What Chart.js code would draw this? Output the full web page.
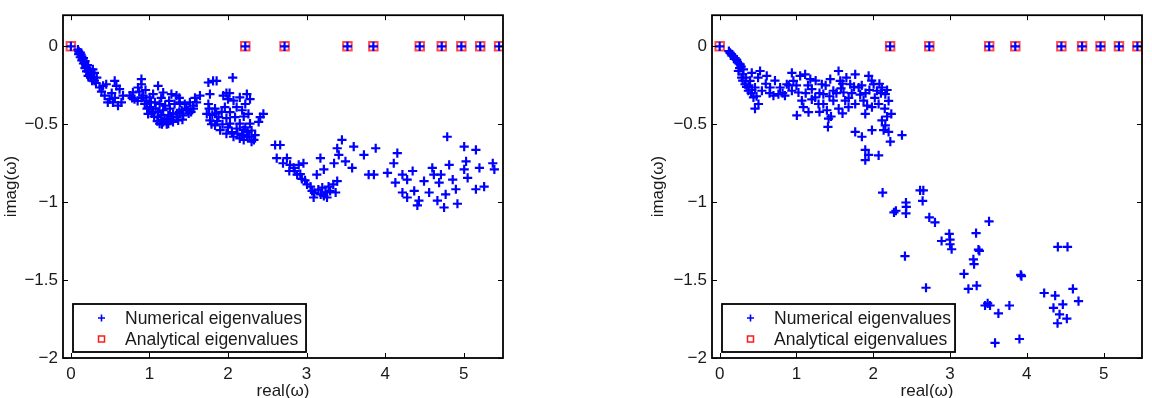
<!DOCTYPE html>
<html>
<head>
<meta charset="utf-8">
<script src="https://cdn.jsdelivr.net/npm/chart.js@4"></script>
<style>
  html, body { margin: 0; padding: 0; background: #fff; overflow: hidden; }
  #wrap { position: relative; width: 1152px; height: 398px; }
  #c1 { position: absolute; left: 0; top: 0; }
  #c2 { position: absolute; left: 647px; top: 0; }
</style>
</head>
<body>
<div id="wrap">
  <canvas id="c1" width="576" height="398"></canvas>
  <canvas id="c2" width="505" height="398"></canvas>
</div>
<script>
// ---------- data ----------
const xLabel = 'real(ω)';
const yLabel = 'imag(ω)';
const legendLabels = ['Numerical eigenvalues', 'Analytical eigenvalues'];

// analytical eigenvalues (all on imag = 0)
const leftAnalyticalReal  = [0, 2.22, 2.72, 3.52, 3.85, 4.44, 4.72, 4.97, 5.21, 5.45];
const rightAnalyticalReal = [0, 2.22, 2.73, 3.51, 3.85, 4.45, 4.72, 4.96, 5.20, 5.44];

// numerical eigenvalues, [real, imag]
const leftNumerical = [
  [0,0],[2.22,0],[2.72,0],[3.52,0],[3.85,0],[4.44,0],[4.72,0],[4.97,0],[5.21,0],[5.45,0],
  [0.09,-0.02],[0.1,-0.032],[0.11,-0.045],[0.12,-0.04],[0.13,-0.053],[0.14,-0.065],[0.15,-0.085],[0.16,-0.075],
  [0.175,-0.106],[0.18,-0.095],[0.19,-0.125],[0.2,-0.137],[0.21,-0.12],[0.217,-0.158],[0.23,-0.145],[0.238,-0.18],
  [0.26,-0.17],[0.28,-0.2],[0.28,-0.148],[0.3,-0.22],[0.32,-0.235],
  [0.1,-0.05],[0.12,-0.07],[0.14,-0.09],[0.16,-0.11],[0.18,-0.14],[0.2,-0.16],[0.22,-0.19],[0.25,-0.2],
  [0.27,-0.22],[0.3,-0.17],[0.33,-0.2],
  [0.366,-0.264],[0.41,-0.253],[0.45,-0.243],[0.39,-0.29],[0.558,-0.222],[0.58,-0.253],[0.62,-0.275],[0.43,-0.316],
  [0.494,-0.338],[0.536,-0.36],[0.6,-0.38],[0.643,-0.36],[0.47,-0.36],[0.664,-0.316],[0.52,-0.3],[0.56,-0.33],
  [0.75,-0.316],[0.79,-0.295],[0.855,-0.264],[0.898,-0.21],[0.898,-0.243],[0.81,-0.338],[0.92,-0.316],[0.96,-0.348],
  [1.004,-0.39],[1.047,-0.42],[1.11,-0.454],[1.175,-0.485],[1.24,-0.496],[1.3,-0.485],[1.366,-0.475],[1.43,-0.443],
  [1.49,-0.41],[1.557,-0.38],[1.6,-0.36],[1.643,-0.316],[1.11,-0.253],[1.175,-0.296],[1.345,-0.316],[1.28,-0.306],
  [1.387,-0.36],[1.45,-0.37],[1.515,-0.36],[1.004,-0.327],[1.07,-0.36],[1.13,-0.37],[1.175,-0.41],[1.24,-0.443],
  [1.3,-0.433],[1.047,-0.306],[0.94,-0.37],[0.983,-0.433],[1.11,-0.422],[1.26,-0.4],[1.345,-0.454],[1.41,-0.41],
  [1.13,-0.496],[1.22,-0.464],[0.87,-0.29],[0.95,-0.28],[1.02,-0.36],[1.08,-0.4],[1.15,-0.44],[1.2,-0.38],
  [1.32,-0.37],[1.38,-0.42],[1.47,-0.4],[1.53,-0.42],[1.19,-0.47],[1.27,-0.47],[1.06,-0.45],
  [0.78,-0.33],[0.85,-0.35],[0.9,-0.33],[0.97,-0.4],[1.03,-0.43],[1.1,-0.48],[1.16,-0.5],[1.22,-0.5],
  [1.28,-0.45],[1.35,-0.43],[1.42,-0.47],[1.5,-0.43],[1.56,-0.4],[1.25,-0.35],[1.15,-0.33],[1.38,-0.33],[1.58,-0.33],
  [1.75,-0.232],[1.81,-0.222],[1.855,-0.222],[1.77,-0.306],[2.06,-0.2],[1.75,-0.37],[1.73,-0.433],[1.77,-0.475],
  [1.835,-0.507],[1.9,-0.538],[1.98,-0.56],[2.07,-0.58],[2.15,-0.59],[2.24,-0.58],[2.3,-0.612],[2.345,-0.57],
  [1.94,-0.316],[2.0,-0.338],[1.96,-0.39],[2.025,-0.422],[2.09,-0.454],[2.11,-0.39],[2.15,-0.496],[2.196,-0.538],
  [2.24,-0.306],[2.28,-0.338],[2.22,-0.37],[2.26,-0.433],[2.28,-0.496],[1.88,-0.454],[1.835,-0.4],[2.025,-0.496],
  [2.11,-0.527],[2.41,-0.454],[2.45,-0.433],[2.39,-0.485],[2.07,-0.348],[2.15,-0.327],[1.8,-0.44],[1.86,-0.48],
  [1.93,-0.5],[2.0,-0.52],[2.2,-0.45],[2.3,-0.54],[2.25,-0.55],[2.18,-0.41],
  [1.76,-0.4],[1.79,-0.5],[1.85,-0.43],[1.92,-0.42],[1.98,-0.46],[2.05,-0.55],[2.12,-0.56],[2.18,-0.57],
  [2.22,-0.52],[2.27,-0.58],[2.33,-0.6],[2.2,-0.6],[2.02,-0.3],[1.98,-0.3],
  [2.6,-0.633],[2.664,-0.633],[2.62,-0.717],[2.75,-0.717],[2.79,-0.76],[2.835,-0.78],[2.9,-0.76],[2.96,-0.75],
  [2.88,-0.823],[2.94,-0.85],[3.006,-0.886],[3.07,-0.928],[3.09,-0.97],[3.13,-0.823],[3.176,-0.717],[3.22,-0.79],
  [3.2,-0.907],[3.24,-0.938],[3.26,-0.97],[3.3,-0.928],[3.34,-0.886],[3.37,-0.938],[3.39,-0.865],[3.41,-0.696],
  [3.39,-0.654],[3.45,-0.6],[3.35,-0.75],[3.495,-0.738],[3.58,-0.78],[3.6,-0.643],[3.73,-0.696],[3.88,-0.654],
  [3.79,-0.823],[3.857,-0.823],[4.03,-0.812],[4.155,-0.685],[4.11,-0.75],[4.13,-0.875],[4.22,-0.823],[4.28,-0.855],
  [4.35,-0.8],[4.22,-0.938],[4.28,-0.97],[4.37,-0.928],[4.43,-0.99],[4.41,-1.02],[4.495,-0.865],[4.56,-0.938],
  [4.62,-0.823],[4.687,-0.875],[4.71,-0.823],[4.665,-0.99],[4.75,-1.034],[4.77,-0.95],[4.815,-0.76],[4.86,-0.855],
  [4.9,-0.917],[4.92,-1.01],[4.79,-0.58],[5.006,-0.643],[5.155,-0.664],[5.03,-0.738],[5.006,-0.79],[5.05,-0.844],
  [5.2,-0.78],[5.155,-0.917],[5.26,-0.9],[5.37,-0.75],[5.39,-0.79],[4.6,-0.78],
  [2.85,-0.8],[2.92,-0.82],[2.98,-0.86],[3.05,-0.9],[3.15,-0.92],[3.18,-0.95],[3.28,-0.9],[3.1,-0.94],
  [3.22,-0.96],[2.7,-0.75],[2.78,-0.8]
];

const rightNumerical = [
  [0,0],[2.22,0],[2.73,0],[3.51,0],[3.85,0],[4.45,0],[4.72,0],[4.96,0],[5.2,0],[5.44,0],
  [0.12,-0.03],[0.135,-0.042],[0.15,-0.05],[0.16,-0.06],[0.18,-0.064],[0.19,-0.08],[0.2,-0.075],[0.22,-0.085],
  [0.23,-0.1],[0.25,-0.11],[0.266,-0.116],[0.28,-0.13],[0.31,-0.148],[0.244,-0.158],[0.26,-0.14],[0.287,-0.2],
  [0.3,-0.18],[0.33,-0.243],[0.35,-0.26],[0.374,-0.285],[0.41,-0.3],[0.44,-0.327],[0.46,-0.4],[0.505,-0.37],
  [0.396,-0.222],[0.418,-0.17],[0.526,-0.158],[0.613,-0.19],[0.46,-0.264],[0.55,-0.285],[0.657,-0.264],[0.7,-0.316],
  [0.787,-0.264],[0.85,-0.316],[0.94,-0.17],[0.96,-0.222],[0.94,-0.285],[1.026,-0.296],[1.048,-0.19],[1.113,-0.18],
  [1.18,-0.21],[1.2,-0.275],[1.07,-0.348],[1.005,-0.443],[1.157,-0.422],[1.09,-0.39],[1.244,-0.327],[1.287,-0.37],
  [1.396,-0.41],[1.418,-0.464],[1.41,-0.517],[1.35,-0.306],[1.44,-0.21],[1.48,-0.285],[1.548,-0.158],[1.57,-0.222],
  [1.613,-0.296],[1.678,-0.39],[1.7,-0.243],[1.765,-0.18],[1.81,-0.264],[1.874,-0.348],[1.94,-0.19],[2.005,-0.243],
  [2.048,-0.285],[2.113,-0.264],[2.157,-0.306],[1.896,-0.433],[1.983,-0.39],[2.07,-0.37],[2.235,-0.433],[2.113,-0.475],
  [2.157,-0.507],[2.2,-0.549],[2.222,-0.612],[2.135,-0.538],[2.374,-0.57],[1.983,-0.538],[1.765,-0.549],[1.852,-0.58],
  [1.896,-0.664],[1.94,-0.696],[1.896,-0.73],[2.07,-0.7],[1.765,-0.37],[1.635,-0.348],[1.48,-0.348],[1.33,-0.243],
  [0.874,-0.243],[0.765,-0.306],
  [0.6,-0.24],[0.72,-0.22],[0.82,-0.3],[1.0,-0.25],[1.12,-0.3],[1.3,-0.3],[1.38,-0.25],[1.52,-0.3],
  [1.58,-0.27],[1.65,-0.2],[1.72,-0.3],[1.85,-0.25],[1.9,-0.3],[1.95,-0.28],[2.02,-0.33],[2.1,-0.3],
  [1.55,-0.4],[1.45,-0.45],[1.3,-0.42],[2.18,-0.45],[2.15,-0.4],
  [0.3,-0.22],[0.34,-0.2],[0.38,-0.25],[0.42,-0.28],[0.48,-0.32],[0.5,-0.2],[0.65,-0.3],[0.9,-0.25],
  [1.15,-0.25],[1.25,-0.22],[1.43,-0.32],[1.6,-0.24],[1.68,-0.33],[1.75,-0.26],[1.83,-0.31],[1.98,-0.22],
  [2.08,-0.24],[2.18,-0.28],[2.2,-0.35],[1.92,-0.38],[1.6,-0.43],[1.35,-0.37],[1.2,-0.34],
  [2.122,-0.939],[2.61,-0.924],[2.652,-0.924],[2.643,-0.992],[2.426,-1.002],[2.43,-1.03],[2.426,-1.072],[2.295,-1.055],
  [2.27,-1.065],[2.73,-1.097],[2.804,-1.129],[2.99,-1.203],[3.0,-1.24],[2.89,-1.249],[3.0,-1.27],[3.021,-1.302],
  [3.339,-1.199],[3.508,-1.123],[3.382,-1.313],[3.37,-1.305],[3.304,-1.367],[3.313,-1.397],[3.182,-1.46],[3.239,-1.557],
  [3.347,-1.536],[2.413,-1.346],[2.687,-1.549],[3.456,-1.663],[3.521,-1.663],[3.49,-1.65],[3.63,-1.713],[3.773,-1.663],
  [3.921,-1.467],[3.93,-1.475],[3.586,-1.903],[3.904,-1.878],[4.226,-1.583],[4.369,-1.6],[4.347,-1.678],[4.469,-1.656],
  [4.426,-1.72],[4.521,-1.747],[4.4,-1.777],[4.6,-1.557],[4.673,-1.635],[4.404,-1.287],[4.53,-1.287]
];

const xTickStep = 1;
const yTickStep = 0.5;

// ---------- helpers ----------
const FONT = "'Liberation Sans', Arial, Helvetica, sans-serif";
const TXT = '#1a1a1a';
Chart.defaults.font.family = FONT;
Chart.defaults.font.size = 17;
Chart.defaults.color = TXT;

function fmt(v) {
  const r = Math.round(v * 10) / 10;
  if (r === 0) return '0';
  return (r < 0 ? '\u2212' : '') + String(Math.abs(r));
}

function frameLegendPlugin() {
  return {
    id: 'frameLegend',
    afterDatasetsDraw(chart) {
      const {ctx, chartArea: a, scales: {x, y}} = chart;
      ctx.save();
      ctx.strokeStyle = '#000';
      ctx.lineWidth = 1;
      const tl = 5;
      ctx.beginPath();
      x.ticks.forEach(t => {
        const px = Math.round(x.getPixelForValue(t.value)) + 0.5;
        ctx.moveTo(px, a.bottom); ctx.lineTo(px, a.bottom - tl);
        ctx.moveTo(px, a.top); ctx.lineTo(px, a.top + tl);
      });
      y.ticks.forEach(t => {
        const py = Math.round(y.getPixelForValue(t.value)) + 0.5;
        ctx.moveTo(a.left, py); ctx.lineTo(a.left + tl, py);
        ctx.moveTo(a.right, py); ctx.lineTo(a.right - tl, py);
      });
      ctx.stroke();
      ctx.lineWidth = 1.8;
      ctx.strokeRect(a.left, a.top, a.right - a.left, a.bottom - a.top);

      // legend box
      ctx.font = '17.5px ' + FONT;
      const tw = Math.max(...legendLabels.map(s => ctx.measureText(s).width));
      const bx = a.left + 10, by = a.bottom - 54, bw = 53 + tw + 3, bh = 48;
      ctx.fillStyle = '#fff';
      ctx.fillRect(bx, by, bw, bh);
      ctx.lineWidth = 1.8;
      ctx.strokeStyle = '#000';
      ctx.strokeRect(bx, by, bw, bh);
      const mx = bx + 28.5;
      const r1 = by + 14, r2 = by + 35;
      // plus marker
      ctx.strokeStyle = '#0000ff';
      ctx.lineWidth = 1.6;
      ctx.beginPath();
      ctx.moveTo(mx - 3.5, r1); ctx.lineTo(mx + 3.5, r1);
      ctx.moveTo(mx, r1 - 3.5); ctx.lineTo(mx, r1 + 3.5);
      ctx.stroke();
      // square marker
      ctx.strokeStyle = '#ff1a1a';
      ctx.lineWidth = 1.5;
      ctx.strokeRect(mx - 3, r2 - 3, 6, 6);
      ctx.fillStyle = TXT;
      ctx.textBaseline = 'middle';
      ctx.textAlign = 'left';
      ctx.fillText(legendLabels[0], bx + 52, r1 + 1);
      ctx.fillText(legendLabels[1], bx + 52, r2 + 1);
      ctx.restore();
    }
  };
}

function makeChart(id, numerical, analyticalReal, yAxisWidth, rightPad) {
  return new Chart(document.getElementById(id), {
    type: 'scatter',
    data: {
      datasets: [
        {
          label: legendLabels[0],
          data: numerical.map(p => ({x: p[0], y: p[1]})),
          pointStyle: 'cross',
          pointRadius: 4.6,
          borderWidth: 2.2,
          borderColor: '#0000ff',
          backgroundColor: '#0000ff'
        },
        {
          label: legendLabels[1],
          data: analyticalReal.map(v => ({x: v, y: 0})),
          pointStyle: 'rect',
          pointRadius: 6,
          borderWidth: 2,
          borderColor: 'rgba(255,30,30,0.8)',
          backgroundColor: 'rgba(0,0,0,0)'
        }
      ]
    },
    options: {
      responsive: false,
      animation: false,
      devicePixelRatio: 1,
      layout: {padding: {left: 0, top: 12, right: rightPad, bottom: 0}},
      plugins: {legend: {display: false}, tooltip: {enabled: false}},
      scales: {
        x: {
          type: 'linear', min: -0.1, max: 5.5,
          grid: {display: false, drawTicks: false},
          border: {display: false},
          ticks: {stepSize: xTickStep, includeBounds: false, padding: 6, maxRotation: 0, autoSkip: false,
                  callback: v => fmt(v), color: TXT, font: {size: 17}},
          title: {display: true, text: xLabel, color: TXT, font: {size: 17, lineHeight: 1}, padding: {top: 0, bottom: -2}},
          afterFit(s) { s.height = 40; }
        },
        y: {
          type: 'linear', min: -2, max: 0.2,
          grid: {display: false, drawTicks: false},
          border: {display: false},
          ticks: {stepSize: yTickStep, includeBounds: false, padding: 5, autoSkip: false,
                  callback: v => fmt(v), color: TXT, font: {size: 17}},
          title: {display: true, text: yLabel, color: TXT, font: {size: 17, lineHeight: 1}, padding: {top: 3, bottom: 0}},
          afterFit(s) { s.width = yAxisWidth; }
        }
      }
    },
    plugins: [frameLegendPlugin()]
  });
}

makeChart('c1', leftNumerical, leftAnalyticalReal, 63, 73);
makeChart('c2', rightNumerical, rightAnalyticalReal, 65, 10);
</script>
</body>
</html>
